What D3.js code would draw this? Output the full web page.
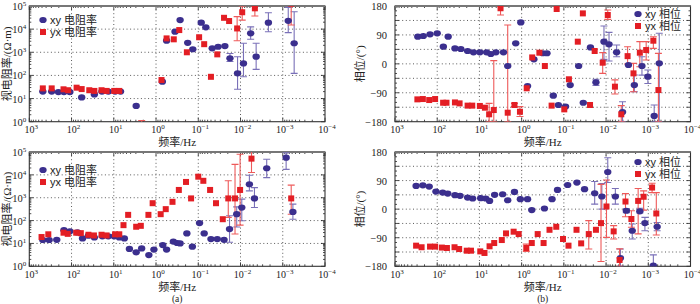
<!DOCTYPE html>
<html><head><meta charset="utf-8">
<script src="https://cdn.jsdelivr.net/npm/d3@7/dist/d3.min.js"></script>
<style>body{margin:0;background:#fff}svg{display:block}</style>
</head><body>
<svg id="c" width="700" height="304"></svg>
<script>
// ===== DATA (frequencies as log10(Hz); resistivity as log10(Ω·m); phase in degrees) =====
// Panel (a) top: apparent resistivity
const resTopXyLogF = [2.68,2.47,2.31,2.18,2.04,1.76,1.46,1.28,1.13,0.97,0.84,0.47,-0.15,-0.25,-0.45,-0.57,-0.75,-0.87,-1.07,-1.18,-1.33,-1.47,-1.63,-1.75,-1.93,-2.07,-2.24,-2.37,-2.66,-3.13,-3.27];
const resTopXyLogR = [1.30,1.30,1.28,1.28,1.28,1.05,1.18,1.30,1.30,1.30,1.30,0.68,1.73,3.50,3.89,4.39,3.41,3.13,4.28,4.08,3.17,3.24,3.27,2.74,2.09,2.52,3.82,2.81,4.28,4.36,3.39];
const resTopXyErr = [[-1.75,2.6,2.95],[-1.93,1.40,2.81],[-2.07,1.94,3.39],[-2.24,3.56,4.1],[-2.37,2.26,3.39],[-2.66,3.89,4.71],[-3.13,3.85,4.94],[-3.27,2.09,4.75]];
const resTopYxLogF = [2.68,2.47,2.19,2.08,1.88,1.76,1.58,1.46,1.29,1.17,0.99,0.87,0.34,-0.13,-0.25,-0.42,-0.55,-0.73,-1.02,-1.14,-1.30,-1.45,-1.61,-1.73,-1.92,-2.04,-2.34,-3.20];
const resTopYxLogR = [1.44,1.44,1.40,1.36,1.47,1.41,1.36,1.33,1.36,1.33,1.33,1.33,-0.3,1.80,3.60,3.56,3.96,3.0,3.65,3.35,1.94,2.91,4.49,4.35,4.03,4.73,4.90,5.1];
const resTopYxErr = [[0.34,-0.6,0.05],[-1.92,3.5,4.54],[-2.04,4.39,5.0],[-2.34,4.57,5.0],[-3.2,4.18,5.2]];

// Panel (b) top: phase
const phTopXyLogF = [2.46,2.33,2.17,2.0,1.855,1.74,1.58,1.44,1.28,1.14,0.99,0.83,0.73,0.61,0.43,0.33,0.14,0.02,-0.14,-0.29,-0.5,-0.6,-0.75,-0.87,-1.04,-1.15,-1.35,-1.46,-1.63,-1.76,-1.95,-2.07,-2.25,-2.39,-2.53,-2.67,-2.85,-2.99,-3.14,-3.26];
const phTopXyDeg = [84.5,86.6,92,95,53.4,84.5,48,46.2,40,35.8,35.8,35.8,30.6,35.8,35.8,-6.75,63.8,129,-69,14,33,33,-99,-128,-133,-66,-6.75,-121,51,-57.6,69,60.7,36,-150,-3.6,-66,-6.75,-40,-162,1.5];
const phTopXyErr = [[-1.76,-67,-48],[-1.95,14,118],[-2.07,9,98],[-2.25,22.3,58.6],[-2.39,-180,-118],[-2.67,-86.6,-34.8],[-2.85,-35,22],[-2.99,-61,-19],[-3.14,-180,-128],[-3.26,-180,95]];
const phTopYxLogF = [2.47,2.34,2.19,2.05,1.86,1.78,1.58,1.47,1.28,1.17,0.99,0.87,0.77,0.66,0.5,0.33,0.17,0.04,-0.12,-0.25,-0.42,-0.55,-0.71,-0.83,-1.01,-1.12,-1.33,-1.45,-1.62,-1.73,-1.92,-2.04,-2.21,-2.36,-2.51,-2.65,-2.8,-2.95,-3.12,-3.24];
const phTopYxDeg = [-110.5,-109.5,-112.6,-109.5,-121,-121,-120,-123,-130,-130,-131,-136.4,-157,-143.7,173,-152,-128,-149,-76,20,34.7,-6.75,-130,170.7,-141.6,-48,69,157,-128,40,3.6,152,-71,-157,24,-29.6,34.7,43,72,-81.5];
const phTopYxErr = [[0.77,-180,-123],[0.66,-180,10],[0.5,152,180],[0.33,-180,121],[0.17,-133,-123],[0.04,-164,-133],[-1.92,-29.6,35],[-2.04,138.5,167.5],[-2.21,-94,-50],[-2.36,-180,-130],[-2.51,-0.5,53],[-2.65,-86.6,1.5],[-2.8,-9,69],[-2.95,12,69],[-3.12,48,84.5],[-3.24,-180,32.7]];

// Panel (a) bottom: apparent resistivity
const resBotXyLogF = [2.68,2.53,2.35,2.18,2.04,1.86,1.74,1.6,1.46,1.27,1.13,0.99,0.87,0.75,0.63,0.47,0.34,0.17,0.05,-0.16,-0.25,-0.41,-0.5,-0.57,-0.73,-0.86,-1.03,-1.14,-1.3,-1.45,-1.61,-1.74,-1.91,-2.03,-2.21,-2.33,-2.62,-3.08,-3.24];
const resBotXyLogR = [1.15,1.15,1.16,1.58,1.53,1.48,1.22,1.34,1.26,1.31,1.31,1.31,1.26,1.22,0.76,0.61,0.78,0.49,0.73,0.93,0.73,1.08,1.02,1.0,1.44,0.86,1.89,1.44,1.19,1.19,1.16,1.63,2.28,2.57,3.59,2.97,4.29,4.75,2.38];
const resBotXyErr = [[-1.74,1.05,2.21],[-1.91,1.72,2.6],[-2.03,1.99,2.94],[-2.21,3.30,3.98],[-2.33,2.57,3.44],[-2.62,3.88,4.68],[-3.08,4.24,4.97],[-3.24,2.06,2.72]];
const resBotYxLogF = [2.71,2.55,2.19,2.09,1.89,1.78,1.6,1.47,1.29,1.17,0.97,0.87,0.77,0.66,0.47,0.36,0.18,0.08,-0.11,-0.23,-0.39,-0.54,-0.71,-0.83,-1.0,-1.12,-1.28,-1.42,-1.58,-1.71,-1.87,-1.99,-2.26,-3.2];
const resBotYxLogR = [1.28,1.40,1.47,1.42,1.47,1.45,1.38,1.35,1.38,1.35,1.40,1.40,1.8,2.25,1.73,1.77,2.25,2.76,2.28,2.5,2.82,3.34,3.69,2.97,3.92,3.74,3.34,2.76,2.06,2.97,2.97,3.34,4.71,2.97];
const resBotYxErr = [[-1.71,2.14,3.74],[-1.87,1.41,4.46],[-1.99,1.8,4.9],[-2.26,4.1,5.1],[-3.2,2.28,3.55]];

// Panel (b) bottom: phase
const phBotXyLogF = [2.5,2.34,2.19,2.03,1.87,1.75,1.58,1.46,1.28,1.16,0.97,0.85,0.76,0.64,0.45,0.33,0.17,0.03,-0.14,-0.24,-0.54,-0.72,-0.85,-1.09,-1.31,-1.49,-1.73,-1.9,-2.04,-2.22,-2.34,-2.48,-2.62,-2.8,-2.92,-3.12,-3.21];
const phBotXyDeg = [73,75,71,55.5,52.3,49,44,42,36.6,33.5,34.5,33.5,26,45,47,28,54.4,31.4,31.4,-3,2.1,31.4,60.7,76,83.7,62.8,50,39.8,117,39.8,-154,-5,-68,-7,-44,-178,-55.5];
const phBotXyErr = [[-1.73,15.7,86.9],[-1.9,0,80.6],[-2.04,84,162],[-2.22,15.7,65],[-2.34,-180,-125.6],[-2.48,-11,1],[-2.62,-94,-47],[-2.8,-12,3],[-2.92,-68,-26],[-3.12,-180,-144],[-3.21,-68,-42]];
const phBotYxLogF = [2.5,2.37,2.17,2.05,1.89,1.77,1.59,1.48,1.3,1.2,0.98,0.88,0.76,0.65,0.47,0.37,0.19,0.07,-0.11,-0.24,-0.38,-0.52,-0.66,-0.82,-0.98,-1.11,-1.3,-1.41,-1.59,-1.76,-1.88,-2.01,-2.18,-2.32,-2.46,-2.6,-2.76,-2.89,-3.09,-3.19];
const phBotYxDeg = [-115,-120,-118,-118,-121,-122.4,-120,-125.6,-130.8,-130.8,-133,-138,-117,-106.7,-97.3,-76.4,-71,-78.5,-122.4,-106.7,-78.5,-106.7,-65,-55.5,-94,-115,-65,-107.8,-78.5,-65,-44,8.4,-70,-160,24,-31,26,39,68,-13.6];
const phBotYxErr = [[-0.11,-133,-110],[-1.59,-125.6,-36],[-1.88,-165,78],[-2.01,-89,92],[-2.18,-94,-52],[-2.32,-180,-125],[-2.46,-24,49],[-2.6,-57,-5],[-2.76,-78,65],[-2.89,-3,57.6],[-3.09,52,81.6],[-3.19,-81.6,52]];

// Axis / label texts
const freqExps = [3,2,1,0,-1,-2,-3,-4];
const resExps = [0,1,2,3,4,5];
const phaseTicks = [-180,-90,0,90,180];
const xTitle = "频率/Hz";
const resTitle = "视电阻率/(Ω·m)";
const phTitle = "相位/(°)";
const resLegend = ["xy 电阻率","yx 电阻率"];
const phLegend = ["xy 相位","yx 相位"];
const subLabels = ["(a)","(b)"];

// ===== DRAWING =====
const svg = d3.select('#c');
const SERIF = "'Liberation Serif','Times New Roman',serif";
const CJK = "'Liberation Serif','Noto Sans CJK SC',sans-serif";
const SANS = "'Liberation Sans','Noto Sans CJK SC',sans-serif";
const BLUE = "#3b2f8e", BLUE_ERR = "#7a70b8", RED = "#e31e24", RED_ERR = "#ee5a5a";
const P = v => Math.pow(10, v);
const sup = e => (e < 0 ? "\u2212" + (-e) : String(e));
let clipId = 0;

function logLabel(sel, e) {
  sel.append('tspan').text('10');
  sel.append('tspan').attr('dy', -4).attr('font-size', 7).text(sup(e));
}

function panel(o) {
  const {l, r, t, b, kind} = o;
  const g = svg.append('g');
  const x = d3.scaleLog().domain([1e3, 1e-4]).range([l, r]);
  const y = kind === 'res' ? d3.scaleLog().domain([1, 1e5]).range([b, t])
                           : d3.scaleLinear().domain([-180, 180]).range([b, t]);
  const yv = kind === 'res' ? P : (v => v);

  // grid
  const gridC = "#5a5a5a";
  freqExps.slice(1, -1).forEach(e => {
    g.append('line').attr('x1', x(P(e))).attr('x2', x(P(e))).attr('y1', t).attr('y2', b)
      .attr('stroke', gridC).attr('stroke-width', 1).attr('stroke-dasharray', '1,2.6');
  });
  const yGrid = kind === 'res' ? resExps.slice(1, -1).map(P) : d3.range(-135, 180, 45);
  yGrid.forEach(v => {
    g.append('line').attr('x1', l).attr('x2', r).attr('y1', y(v)).attr('y2', y(v))
      .attr('stroke', gridC).attr('stroke-width', 1).attr('stroke-dasharray', '1,2.6');
  });

  // ticks
  const tk = (x1, y1, x2, y2) => g.append('line').attr('x1', x1).attr('y1', y1).attr('x2', x2).attr('y2', y2)
    .attr('stroke', '#222').attr('stroke-width', 0.8);
  freqExps.forEach(e => {
    const xx = x(P(e));
    tk(xx, b, xx, b - 4); tk(xx, t, xx, t + 4);
    if (e > -4) for (let k = 2; k <= 9; k++) {
      const xm = x(k * P(e - 1));
      tk(xm, b, xm, b - 2); tk(xm, t, xm, t + 2);
    }
  });
  if (kind === 'res') {
    resExps.forEach(e => {
      const yy = y(P(e));
      tk(l, yy, l + 4, yy); tk(r, yy, r - 4, yy);
      if (e < 5) for (let k = 2; k <= 9; k++) {
        const ym = y(k * P(e));
        tk(l, ym, l + 2, ym); tk(r, ym, r - 2, ym);
      }
    });
  } else {
    d3.range(-180, 181, 15).forEach(v => {
      const yy = y(v), len = v % 45 === 0 ? 4 : 2;
      tk(l, yy, l + len, yy); tk(r, yy, r - len, yy);
    });
  }

  // frame
  g.append('rect').attr('x', l).attr('y', t).attr('width', r - l).attr('height', b - t)
    .attr('fill', 'none').attr('stroke', '#333').attr('stroke-width', 1.1);
  g.append('line').attr('x1', l).attr('x2', r).attr('y1', t).attr('y2', t)
    .attr('stroke', '#777').attr('stroke-width', 1.8);

  // tick labels
  freqExps.forEach(e => {
    const tx = g.append('text').attr('x', x(P(e)) + 2).attr('y', b + 11.5).attr('text-anchor', 'middle')
      .attr('font-family', SERIF).attr('font-size', 10).attr('fill', '#222');
    logLabel(tx, e);
  });
  if (kind === 'res') {
    resExps.forEach(e => {
      const tx = g.append('text').attr('x', l - 3).attr('y', y(P(e)) + 4).attr('text-anchor', 'end')
        .attr('font-family', SERIF).attr('font-size', 10.5).attr('fill', '#222');
      logLabel(tx, e);
    });
  } else {
    phaseTicks.forEach(v => {
      g.append('text').attr('x', l - 8).attr('y', y(v) + 4).attr('text-anchor', 'end')
        .attr('font-family', SERIF).attr('font-size', 10.5).attr('fill', '#222')
        .text(v < 0 ? "\u2212" + (-v) : String(v));
    });
  }

  // titles
  g.append('text').attr('x', (l + r) / 2).attr('y', b + 24.5).attr('text-anchor', 'middle')
    .attr('font-family', CJK).attr('font-size', 11).attr('fill', '#222').text(xTitle);
  const ty = (t + b) / 2;
  g.append('text').attr('transform', `translate(${o.titleX},${ty}) rotate(-90)`)
    .attr('text-anchor', 'middle').attr('font-family', CJK).attr('font-size', 11).attr('fill', '#222')
    .text(kind === 'res' ? resTitle : phTitle);
  if (o.sub) g.append('text').attr('x', (l + r) / 2).attr('y', b + 35.5).attr('text-anchor', 'middle')
    .attr('font-family', SERIF).attr('font-size', 9.5).attr('fill', '#222').text(o.sub);

  // data (clipped)
  const id = 'clip' + (clipId++);
  svg.append('clipPath').attr('id', id).append('rect').attr('x', l).attr('y', t).attr('width', r - l).attr('height', b - t);
  const dg = g.append('g').attr('clip-path', `url(#${id})`);
  const drawErr = (errs, color) => {
    errs.forEach(([lf, lo, hi]) => {
      const xx = x(P(lf)), y1 = y(yv(lo)), y2 = y(yv(hi));
      dg.append('line').attr('x1', xx).attr('x2', xx).attr('y1', y1).attr('y2', y2).attr('stroke', color).attr('stroke-width', 1.1);
      [y1, y2].forEach(yy => dg.append('line').attr('x1', xx - 3.5).attr('x2', xx + 3.5).attr('y1', yy).attr('y2', yy).attr('stroke', color).attr('stroke-width', 1.1));
    });
  };
  drawErr(o.xyErr, BLUE_ERR);
  drawErr(o.yxErr, RED_ERR);
  dg.selectAll(null).data(o.xyF.map((f, i) => [f, o.xyV[i]])).enter().append('ellipse')
    .attr('cx', d => x(P(d[0]))).attr('cy', d => y(yv(d[1]))).attr('rx', 3.7).attr('ry', 3.1).attr('fill', BLUE);
  dg.selectAll(null).data(o.yxF.map((f, i) => [f, o.yxV[i]])).enter().append('rect')
    .attr('x', d => x(P(d[0])) - 3).attr('y', d => y(yv(d[1])) - 3).attr('width', 6).attr('height', 6).attr('fill', RED);

  // legend
  const lg = o.legend, labels = kind === 'res' ? resLegend : phLegend;
  g.append('ellipse').attr('cx', lg.x).attr('cy', lg.y).attr('rx', 3.7).attr('ry', 3.1).attr('fill', BLUE);
  g.append('rect').attr('x', lg.x - 3).attr('y', lg.y + lg.dy - 3).attr('width', 6).attr('height', 6).attr('fill', RED);
  labels.forEach((s, i) => g.append('text').attr('x', lg.x + 7).attr('y', lg.y + i * lg.dy + 4)
    .attr('font-family', SANS).attr('font-size', 11).attr('fill', '#222').text(s));
}

panel({l: 29.3, r: 325, t: 6, b: 121.7, kind: 'res', titleX: 11,
  xyF: resTopXyLogF, xyV: resTopXyLogR, xyErr: resTopXyErr,
  yxF: resTopYxLogF, yxV: resTopYxLogR, yxErr: resTopYxErr, legend: {x: 43, y: 20, dy: 12}});
panel({l: 395, r: 690.5, t: 6, b: 121.7, kind: 'ph', titleX: 364,
  xyF: phTopXyLogF, xyV: phTopXyDeg, xyErr: phTopXyErr,
  yxF: phTopYxLogF, yxV: phTopYxDeg, yxErr: phTopYxErr, legend: {x: 638, y: 14, dy: 12}});
panel({l: 29.3, r: 325, t: 152, b: 266.3, kind: 'res', titleX: 11, sub: subLabels[0],
  xyF: resBotXyLogF, xyV: resBotXyLogR, xyErr: resBotXyErr,
  yxF: resBotYxLogF, yxV: resBotYxLogR, yxErr: resBotYxErr, legend: {x: 43, y: 170, dy: 12}});
panel({l: 395, r: 690.5, t: 152, b: 266.3, kind: 'ph', titleX: 364, sub: subLabels[1],
  xyF: phBotXyLogF, xyV: phBotXyDeg, xyErr: phBotXyErr,
  yxF: phBotYxLogF, yxV: phBotYxDeg, yxErr: phBotYxErr, legend: {x: 638, y: 162, dy: 12}});
</script>
</body></html>
